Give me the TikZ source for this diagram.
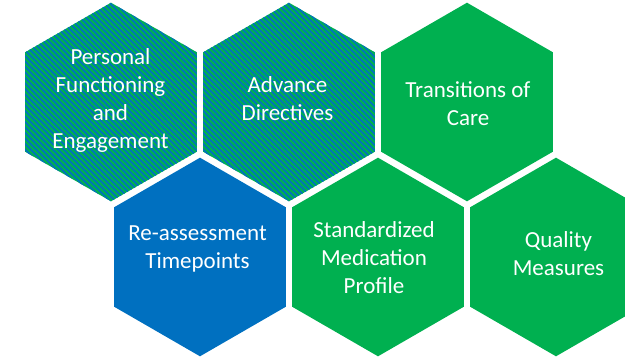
\documentclass[tikz,border=0pt]{standalone}
\usepackage{fontspec}
\setmainfont{Carlito}
\usetikzlibrary{shapes.geometric,calc}
\definecolor{hexgreen}{HTML}{00B050}
\definecolor{hexblue}{HTML}{0070C0}
\tikzset{
  hexbase/.style={shape=regular polygon, regular polygon sides=6, shape border rotate=30,
    minimum size=198.6pt, inner sep=0pt, outer sep=0pt, draw=none},
  greenhex/.style={hexbase, fill=hexgreen},
  bluehex/.style={hexbase, fill=hexblue},
  stripehex/.style={hexbase, fill=hexgreen,
    path picture={
      \foreach \i in {-38,...,34}{
        \draw[hexblue, line width=1.6pt]
          ($(path picture bounding box.north west)+(\i*5.5pt,2pt)$) -- ++(240pt,-240pt);
      }
    }},
  hextext/.style={text=white, align=center, font=\fontsize{23pt}{28pt}\selectfont}
}
\begin{document}
\begin{tikzpicture}[x=1pt,y=-1pt]
\useasboundingbox (0,0) rectangle (625,358);
% row 1
\node[stripehex] (h1) at (111,102) {};
\node[stripehex] (h2) at (289,102) {};
\node[greenhex]  (h3) at (467,102) {};
% row 2
\node[bluehex]   (h4) at (200,257) {};
\node[greenhex]  (h5) at (378,257) {};
\node[greenhex]  (h6) at (556,257) {};
% texts
\node[hextext] (t1) at (110.5,100.5) {Personal\\Functioning\\and\\Engagement};
\node[hextext] (t2) at (287.5,98.5) {Advance\\Directives};
\node[hextext] (t3) at (468,104) {Transitions of\\Care};
\node[hextext] (t4) at (197.5,249) {Re-assessment\\Timepoints};
\node[hextext] (t5) at (374,257.5) {Standardized\\Medication\\Profile};
\node[hextext] (t6) at (558.5,254) {Quality\\Measures};
\end{tikzpicture}
\end{document}
